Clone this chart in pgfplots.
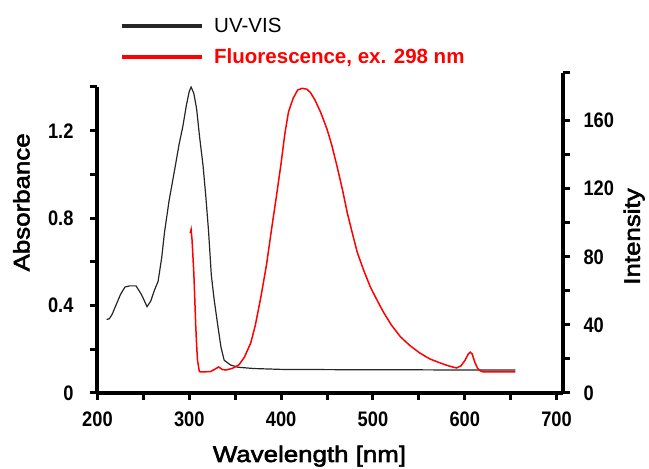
\documentclass[border=0pt]{standalone}
\usepackage{fontspec}
\setmainfont{Liberation Sans}
\newfontfamily\tickfont[FakeStretch=0.87]{Liberation Sans}
\newfontfamily\labfont[FakeStretch=1.15,FakeBold=2.5]{Liberation Sans}
\usepackage{pgfplots}
\pgfplotsset{compat=1.18}
\pgfplotstableread{
x y
210 0.336
213 0.34
216 0.36
220 0.40
225 0.45
230 0.485
235 0.49
242 0.49
248 0.45
254 0.395
258 0.42
262 0.47
266 0.51
270 0.62
273 0.735
278 0.88
284 1.02
289 1.14
293 1.22
297 1.32
300 1.38
302 1.40
305 1.37
308 1.30
311 1.18
315 1.04
318 0.90
321 0.74
324 0.54
327 0.43
331 0.31
334.5 0.21
338 0.15
345 0.128
353 0.118
370 0.112
400 0.108
450 0.107
500 0.106
550 0.106
600 0.105
630 0.105
655 0.105
}\uvvis
\pgfplotstableread{
x y
301 94
302 96
303 90
304 80
305 70
306 55
307 40
308 28
309 19
311 12.5
316 12.4
323 12.6
328 14
332 15.3
336 13.8
340 13.5
347 14.5
354 16.5
360 21
367 29.5
372 40
378 56.5
384 75
389 94
395 116
400 135
404 152
408 165
413 173
418 178
423 179
428 178.5
432 176.5
437 172
443 165
450 155
455 146
461 133
467 119
472 106
478 93
483 82.5
490 72
497 62.5
505 54
512 47
520 40
530 33
540 28
551 23.5
562 20
573 17.7
582 16
591 14.7
596 16
600 19
604 23
606 24
608 23
611 18
614 14.5
617 13
620 12.4
640 12.4
655 12.4
}\fluor
\begin{document}
\begin{tikzpicture}
\path[use as bounding box] (-97pt,-76pt) rectangle (552pt,393pt);
\pgfplotsset{
  common/.style={
    scale only axis, width=466pt,
    xmin=199.5, xmax=707, ymin=0,
    axis line style={line width=3.5pt, -},
    tick align=outside,
    major tick length=7pt, minor tick length=7pt,
    tick style={line width=3pt, black},
    /pgf/number format/assume math mode=true,
    ticklabel style={font=\tickfont\bfseries\fontsize{21}{21}\selectfont},
    label style={font=\labfont\fontsize{22.5}{22.5}\selectfont},
  }
}
\begin{axis}[common,
  height=306pt, ymax=1.4,
  axis x line*=bottom, axis y line*=left,
  xtick={200,300,...,700}, minor xtick={250,350,...,650},
  ytick={0,0.4,0.8,1.2}, minor ytick={0.2,0.6,1.0,1.4},
  xticklabel style={yshift=-8pt},
  yticklabel style={xshift=-13pt},
  xlabel={Wavelength [nm]},
  ylabel={Absorbance},
  xlabel style={at={(axis description cs:0.456,0)}, anchor=base, yshift=-69pt},
  ylabel style={at={(axis description cs:-0.145,0.623)}, anchor=base},
  legend style={at={(axis description cs:0.0494,1.232)}, anchor=north west,
    draw=none, fill=none, inner sep=0pt, row sep=10.5pt, column sep=8pt,
    font=\fontsize{20.5}{20.5}\selectfont},
  legend cell align=left,
  legend image code/.code={\draw[#1] (0pt,0pt) -- (80pt,0pt);},
  legend image post style={line width=4pt},
]
\addplot[black!85, line width=1.2pt] table[x=x,y=y] {\uvvis};
\addlegendentry{UV-VIS}
\addlegendimage{red, line width=1.5pt}
\addlegendentry{\textcolor{red}{\bfseries Fluorescence, ex. 298 nm}}
\end{axis}
\begin{axis}[common,
  height=320pt, ymax=188,
  axis x line=none, axis y line*=right,
  ytick={0,40,...,160}, minor ytick={20,60,100,140},
  extra y ticks={188}, extra y tick labels={},
  yticklabel style={xshift=10pt},
  ylabel={Intensity},
  ylabel style={at={(axis description cs:1.165,0.489)}, anchor=base},
]
\addplot[red, line width=1.5pt] table[x=x,y=y] {\fluor};
\end{axis}
\end{tikzpicture}
\end{document}
